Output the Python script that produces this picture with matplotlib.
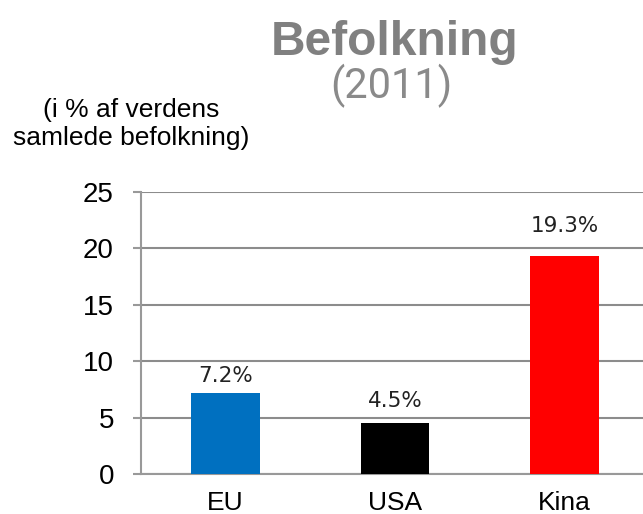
import matplotlib.pyplot as plt

categories = ['EU', 'USA', 'Kina']
values = [7.2, 4.5, 19.3]
value_labels = ['7.2%', '4.5%', '19.3%']
bar_colors = ['#0070C0', '#000000', '#FF0000']
label_offsets = [8, 11.5, 17.3]  # points from bar top to text baseline

fig = plt.figure(figsize=(6.43, 5.14), dpi=100)
ax = fig.add_axes([0.2193, 0.0778, 0.79, 0.5496])

x = range(len(categories))
ax.bar(x, values, width=0.405, color=bar_colors, zorder=3)

for xi, v, lab, off in zip(x, values, value_labels, label_offsets):
    ax.annotate(lab, (xi, v), xytext=(0, off), textcoords='offset points',
                ha='center', va='baseline', fontsize=15.5, color='#222222',
                family='DejaVu Sans')

ax.set_xlim(-0.5, 2.5)
ax.set_ylim(0, 25)
ax.set_yticks(range(0, 26, 5))
ax.set_xticks(list(x))
ax.set_xticklabels(categories, fontsize=19, family='Liberation Sans')
ax.tick_params(axis='y', labelsize=20, length=6, width=1.5, color='#999999', pad=13.5)
ax.tick_params(axis='x', length=0, pad=12)
for t in ax.get_yticklabels():
    t.set_family('Liberation Sans')

ax.grid(axis='y', color='#8c8c8c', linewidth=1.5, zorder=0)
for s in ['top', 'right']:
    ax.spines[s].set_visible(False)
ax.spines['left'].set_color('#999999')
ax.spines['left'].set_linewidth(1.5)
ax.spines['bottom'].set_color('#999999')
ax.spines['bottom'].set_linewidth(1.5)

fig.text(0.613, 0.918, 'Befolkning', ha='center', va='center', fontsize=34.5,
         fontweight='bold', color='#808080', family='Liberation Sans')
fig.text(0.608, 0.833, '(2011)', ha='center', va='center', fontsize=30,
         color='#8a8a8a', family='Roboto')
fig.text(0.2045, 0.759, '(i % af verdens\nsamlede befolkning)', ha='center',
         va='center', fontsize=19, color='black', family='Liberation Sans',
         linespacing=1.2)

fig.savefig('out.png', dpi=100)
